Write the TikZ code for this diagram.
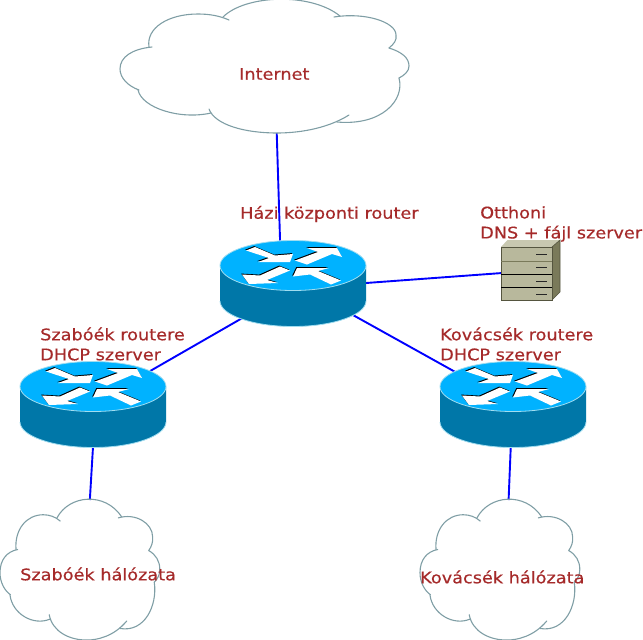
\documentclass[tikz,border=0pt]{standalone}
\usepackage{fontspec}
\setmainfont[FakeStretch=1.105, FakeBold=0.4]{DejaVu Sans}
\usetikzlibrary{shapes.geometric}
\definecolor{labelred}{HTML}{A52A2A}
\definecolor{routertop}{HTML}{00B2FF}
\definecolor{routerside}{HTML}{0077A8}
\definecolor{routeredge}{HTML}{A0DDF0}
\definecolor{cloudline}{HTML}{7F9EA5}
\definecolor{linkblue}{HTML}{0000FF}
\definecolor{serverfront}{HTML}{B8B89C}
\definecolor{servertop}{HTML}{C8C8B0}
\definecolor{serverside}{HTML}{7A7A5A}
\definecolor{serveredge}{HTML}{55553F}
\tikzset{
	anchorbox/.style={rectangle, inner sep=0pt, outer sep=0pt},
	routerbox/.style={ellipse, inner sep=0pt, outer sep=0pt, minimum width=146pt, minimum height=86pt},
	textlabel/.style={anchor=west, inner sep=0pt, text=labelred, font=\fontsize{16}{20}\selectfont, align=left},
	link/.style={draw=linkblue, line width=1.9pt},
	cloudarc/.style={draw=cloudline, line width=1.1pt, line cap=round},
	slot/.style={draw=black!85, line width=1pt},
	pics/routericon/.style={code={
		\fill[routerside] (-73,-17.5) -- (-73,18) .. controls (-73,32) and (-40,43.5) .. (0,43.5) .. controls (40,43.5) and (73,32) .. (73,18) -- (73,-17.5) -- cycle;
		\draw[routeredge, line width=0.8pt] (-73,18) .. controls (-73,32) and (-40,43.5) .. (0,43.5) .. controls (40,43.5) and (73,32) .. (73,18);
		\draw[fill=routertop, draw=routeredge, line width=0.8pt] (0,-17.5) ellipse (73 and 25);
		\foreach \shiftx/\shifty/\tone in {-0.8/-0.9/black, 0/0/white} {
			\fill[\tone, shift={(\shiftx,\shifty)}] (-47,-32.5) -- (-38,-36) -- (-18,-27.5) -- (0,-29) -- (-3,-21) -- (-35,-21) -- (-24,-25) -- cycle;
			\fill[\tone, shift={(\shiftx,\shifty)}] (2,-22.5) -- (25,-31) -- (14,-35) -- (44,-35) -- (49,-26) -- (39,-29) -- (14,-18.5) -- cycle;
			\fill[\tone, shift={(\shiftx,\shifty)}] (-3,-12.5) -- (-13,-16.5) -- (-33,-7.5) -- (-51,-8.5) -- (-44,1) -- (-15,0) -- (-26,-3) -- cycle;
			\fill[\tone, shift={(\shiftx,\shifty)}] (0,-6.5) -- (4,-15) -- (36,-15) -- (25,-12) -- (48,-2.5) -- (38,1.5) -- (17,-8.5) -- cycle;
		}
	}},
	pics/cloudicon/.style={code={
		% coordinates of the large cloud, from its top left corner
		\draw[cloudarc] (103,17) .. controls (125,-5) and (190,-8) .. (220,16);
		\draw[cloudarc] (214,17) .. controls (245,12) and (276,22) .. (276,35) .. controls (277,40) and (274,44) .. (269,48);
		\draw[cloudarc] (269,48) .. controls (282,52) and (289,58) .. (289,66) .. controls (289,71) and (285,75) .. (279,78);
		\draw[cloudarc] (279,78) .. controls (285,100) and (262,126) .. (217,122);
		\draw[cloudarc] (229,115) .. controls (205,130) and (175,133) .. (157,133) .. controls (125,133) and (95,125) .. (89,109);
		\draw[cloudarc] (91,113) .. controls (60,120) and (22,108) .. (18,90);
		\draw[cloudarc] (19,90) .. controls (8,86) and (0,78) .. (0,69) .. controls (0,57) and (12,49) .. (32,47);
		\draw[cloudarc] (29,47) .. controls (26,28) and (48,14) .. (78,14) .. controls (90,14) and (100,16) .. (109,20);
	}},
	pics/servericon/.style={code={
		\fill[servertop] (-29.5,-23) -- (-23,-30) -- (29.5,-30) -- (21.5,-23) -- cycle;
		\draw[draw=serveredge, fill=serverside, line width=0.6pt] (21.5,-23) -- (29.5,-30) -- (29.5,22) -- (21.5,30) -- cycle;
		\draw[draw=serveredge, fill=serverfront, line width=1pt] (-29.5,-23) rectangle (21.5,30);
		\draw[serverside, line width=0.9pt] (-29.5,-9) -- (21.5,-9);
		\draw[black, line width=0.9pt] (-29.5,4) -- (21.5,4);
		\draw[black, line width=0.9pt] (-29.5,17) -- (21.5,17);
		\foreach \sloty in {-16,-2.5,11,24} {
			\draw[slot] (5.5,\sloty) -- (16.5,\sloty);
		}
	}},
}

\begin{document}
\begin{tikzpicture}[x=1pt, y=-1pt]
	\useasboundingbox (0,0) rectangle (643,640);
	\node (internet) [anchorbox, minimum width=290pt, minimum height=133pt] at (265,66.5) {};
	\node (szabonet) [anchorbox, minimum width=160pt, minimum height=140pt] at (80,570) {};
	\node (kovacsnet) [anchorbox, minimum width=160pt, minimum height=140pt] at (500,570) {};
	\node (hazi) [routerbox] at (293,283) {};
	\node (szabo) [routerbox] at (93,404) {};
	\node (kovacs) [routerbox] at (513,404) {};
	\node (server) [anchorbox, minimum width=59pt, minimum height=60pt] at (530.5,270) {};

	% Links
	\draw[link] (internet.280) -- (hazi.107);
	\draw[link] (hazi.east) -- (server.186);
	\draw[link] (hazi.215) -- (szabo.30);
	\draw[link] (hazi.332) -- (kovacs.151);
	\draw[link] (szabo.south) -- (szabonet.82);
	\draw[link] (kovacs.267) -- (kovacsnet.83);

	% Icons
	\pic at (hazi) {routericon};
	\pic at (szabo) {routericon};
	\pic at (kovacs) {routericon};
	\pic at (server) {servericon};
	\pic at (internet.north west) {cloudicon};
	\pic[xscale=0.553, yscale=1.053] at (szabonet.north west) {cloudicon};
	\pic[xscale=0.553, yscale=1.053] at (kovacsnet.north west) {cloudicon};

	% Labels
	\node (internettext) [textlabel] at (239,74) {Internet};
	\node (hazitext) [textlabel] at (240,214) {Házi központi router};
	\node (servertext) [textlabel] at (480,224) {Otthoni\\DNS + fájl szerver};
	\node (szabotext) [textlabel] at (40,344) {Szabóék routere\\DHCP szerver};
	\node (kovacstext) [textlabel] at (440,344) {Kovácsék routere\\DHCP szerver};
	\node (szabonettext) [textlabel] at (20,574) {Szabóék hálózata};
	\node (kovacsnettext) [textlabel] at (420,577) {Kovácsék hálózata};
\end{tikzpicture}
\end{document}
